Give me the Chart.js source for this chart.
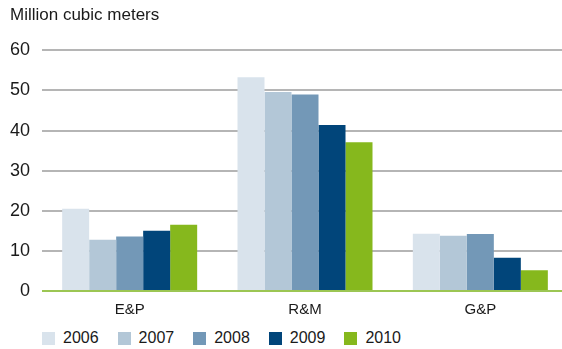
<!DOCTYPE html>
<html>
<head>
<meta charset="utf-8">
<script src="https://cdn.jsdelivr.net/npm/chart.js@4"></script>
<style>
  html, body { margin: 0; padding: 0; background: #fff; overflow: hidden; }
  #wrap { position: relative; width: 568px; height: 349px; font-family: "Liberation Sans", Arial, sans-serif; }
  #chartBox { position: absolute; left: 0; top: 0; width: 568px; height: 329px; }
  #legend { position: absolute; left: 42px; top: 329px; display: flex; }
  .item { display: flex; align-items: center; margin-right: 19px; font-size: 16px; color: #1a1a1a; }
  .swatch { width: 13px; height: 13px; margin-right: 8px; }
</style>
</head>
<body>
<div id="wrap">
  <div id="chartBox"><canvas id="waterChart"></canvas></div>
  <div id="legend"></div>
</div>
<script>
// categories and yearly series (million cubic meters)
const categories = ['E&P', 'R&M', 'G&P'];
const years = ['2006', '2007', '2008', '2009', '2010'];
const values2006 = [20.5, 53.3, 14.3];
const values2007 = [12.8, 49.6, 13.8];
const values2008 = [13.6, 49.0, 14.2];
const values2009 = [15.0, 41.4, 8.3];
const values2010 = [16.5, 37.1, 5.2];
const yTicks = [0, 10, 20, 30, 40, 50, 60];

const colors = ['#d9e3ec', '#b3c7d7', '#7398b7', '#01457a', '#86b81d'];
const seriesValues = [values2006, values2007, values2008, values2009, values2010];

const ctx = document.getElementById('waterChart').getContext('2d');
Chart.defaults.font.family = '"Liberation Sans", Arial, sans-serif';
Chart.defaults.color = '#1a1a1a';

const chart = new Chart(ctx, {
    type: 'bar',
    data: {
        labels: categories,
        datasets: years.map((y, i) => ({
            label: y,
            data: seriesValues[i],
            backgroundColor: colors[i],
            borderWidth: 0,
            categoryPercentage: 0.77,
            barPercentage: 1
        }))
    },
    options: {
        responsive: true,
        maintainAspectRatio: false,
        animation: false,
        layout: { padding: { left: 10, right: 0, top: 0, bottom: 0 } },
        plugins: {
            tooltip: { enabled: false },
            legend: { display: false },
            title: {
                display: true,
                text: 'Million cubic meters',
                align: 'start',
                font: { size: 17, weight: 'normal' },
                color: '#1a1a1a',
                padding: { top: 5, bottom: 25 }
            }
        },
        scales: {
            x: {
                grid: { display: false, drawTicks: false },
                border: { display: false },
                ticks: { font: { size: 15 }, padding: 10, color: '#1a1a1a' }
            },
            y: {
                min: 0,
                max: 60,
                afterBuildTicks: axis => { axis.ticks = yTicks.map(v => ({ value: v })); },
                afterFit: axis => { axis.width = 32; },
                grid: {
                    drawTicks: false,
                    color: c => c.tick && c.tick.value === 0 ? '#9cc653' : '#b5b5b5',
                    lineWidth: 2
                },
                border: { display: false },
                ticks: { font: { size: 18 }, padding: 12, color: '#1a1a1a' }
            }
        }
    }
});

// legend built from the same years and colours
const legend = document.getElementById('legend');
chart.data.datasets.forEach(ds => {
    const item = document.createElement('div');
    item.className = 'item';
    const sw = document.createElement('span');
    sw.className = 'swatch';
    sw.style.background = ds.backgroundColor;
    item.appendChild(sw);
    item.appendChild(document.createTextNode(ds.label));
    legend.appendChild(item);
});
</script>
</body>
</html>
